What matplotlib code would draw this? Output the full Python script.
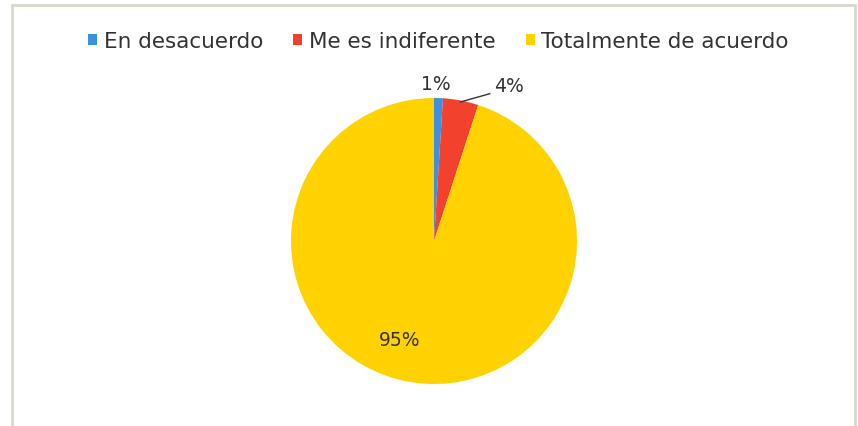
import matplotlib.pyplot as plt
import numpy as np
from matplotlib.patches import Rectangle

categories = ["En desacuerdo", "Me es indiferente", "Totalmente de acuerdo"]
values = [1, 4, 95]
colors = ["#3d8fe0", "#f2412c", "#ffd200"]

W, H = 858, 427
fig = plt.figure(figsize=(W / 100, H / 100), dpi=100)
fig.patch.set_facecolor("white")

# outer frame of the chart area
fig.add_artist(Rectangle((12 / W, -0.05), (855 - 12) / W, 1.05 - 6 / H,
                         transform=fig.transFigure, fill=False,
                         edgecolor="#d6d8cc", linewidth=2.0))

cx, cy, r = 434, 242, 143
ax = fig.add_axes([(cx - r) / W, (H - cy - r) / H, 2 * r / W, 2 * r / H])
wedges, _ = ax.pie(values, colors=colors, startangle=90, counterclock=False,
                   radius=1.0, wedgeprops=dict(linewidth=0))
ax.set_xlim(-1, 1)
ax.set_ylim(-1, 1)
ax.set_aspect("equal")
ax.axis("off")

txt_kw = dict(fontsize=13.5, color="#333333", family="DejaVu Sans")
labels = [f"{v:.0f}%" for v in values]

# 1% label above the top of the pie
ax.text(0.014, 1.10, labels[0], ha="center", va="center", **txt_kw)

# 4% label with leader line from the red wedge
w = wedges[1]
mid = np.deg2rad((w.theta1 + w.theta2) / 2)
ex, ey = np.cos(mid), np.sin(mid)
ax.plot([ex * 0.99, 0.39], [ey * 0.99, 1.03], color="#333333", lw=1.0,
        clip_on=False)
ax.text(0.42, 1.085, labels[1], ha="left", va="center", **txt_kw)

# 95% label inside the yellow wedge
ax.text(-0.238, -0.692, labels[2], ha="center", va="center", **txt_kw)

leg = fig.legend(wedges, categories, loc="center", bbox_to_anchor=(0.511, 1 - 42 / H),
                 ncol=3, frameon=False, handlelength=0.42, handleheight=0.42,
                 handletextpad=0.3, columnspacing=1.4,
                 prop=dict(family="DejaVu Sans", size=15.5))
for t in leg.get_texts():
    t.set_color("#333333")

fig.savefig("out.png", dpi=100)
